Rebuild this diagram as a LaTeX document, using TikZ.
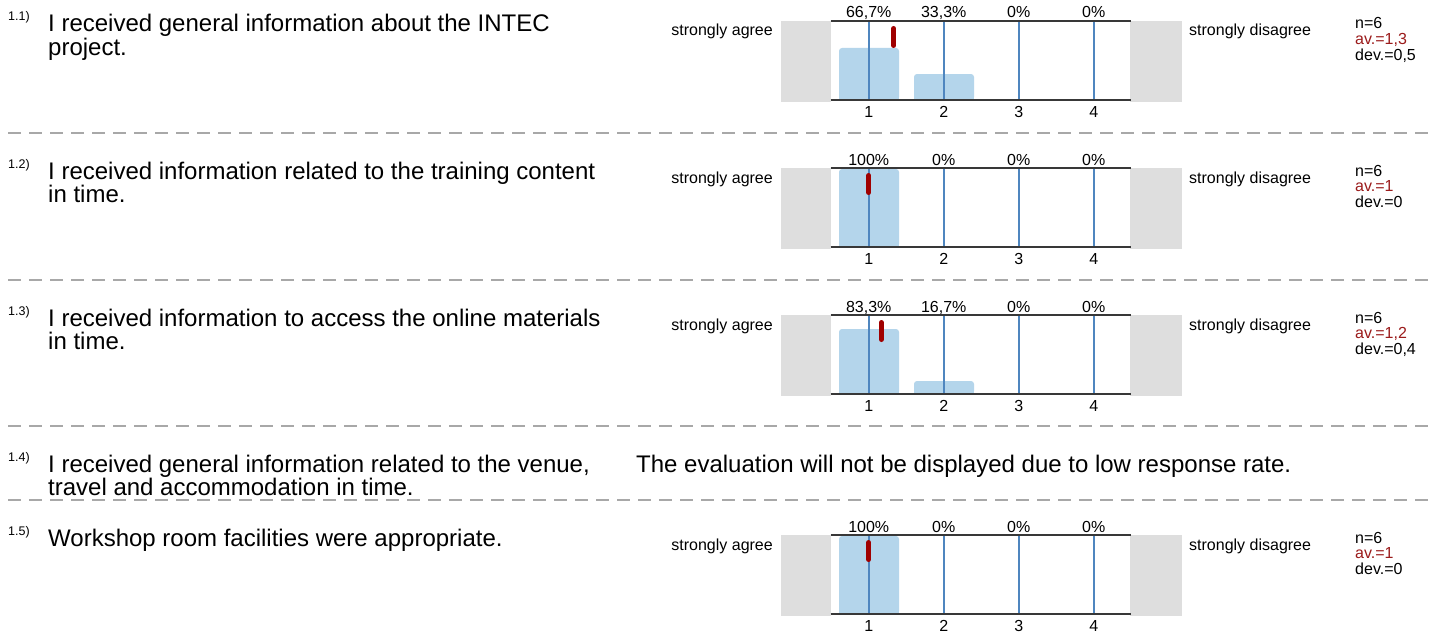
\documentclass[tikz,border=0pt]{standalone}
\usepackage{fontspec}
\setmainfont{Liberation Sans}
\definecolor{graybox}{HTML}{DEDEDE}
\definecolor{barblue}{HTML}{B4D5EB}
\definecolor{tickblue}{HTML}{4F86BF}
\definecolor{meanred}{HTML}{A00000}
\definecolor{avred}{HTML}{9B1B1B}
\definecolor{sepgray}{HTML}{A8A8A8}
\definecolor{axisgray}{HTML}{383838}
\begin{document}
\begin{tikzpicture}[x=1pt,y=-1pt,
  question/.style={anchor=base west, inner sep=0pt, align=left, font=\fontsize{24}{23.5}\selectfont},
  qnum/.style={anchor=base west, inner sep=0pt, font=\fontsize{12.5}{12.5}\selectfont},
  small/.style={inner sep=0pt, font=\fontsize{16}{16}\selectfont},
  statline/.style={small, anchor=base west},
  sepline/.style={draw=sepgray, line width=1.3pt, dash pattern=on 13.3pt off 7.7pt},
  axisline/.style={draw=axisgray, line width=1.9pt},
  tickline/.style={draw=tickblue, line width=1.9pt},
  meanmark/.style={draw=meanred, line width=5pt, line cap=round},
]
\fill[white] (0,0) rectangle (1431,634);
\useasboundingbox (0,0) rectangle (1431,634);

% separators
\foreach \s/\yy in {1/133, 2/280, 3/426, 4/500}{
  \coordinate (sepL\s) at (8,\yy);
  \coordinate (sepR\s) at (1431,\yy);
  \draw[sepline] (sepL\s) -- (sepR\s);
}

% questions (base anchor of a two-line node = baseline of its last line)
\node[qnum] (q1num) at (8,21) {1.1)};
\node[question] (q1) at (48,55.5) {I received general information about the INTEC\\project.};
\node[qnum] (q2num) at (8,168) {1.2)};
\node[question] (q2) at (48,202.5) {I received information related to the training content\\in time.};
\node[qnum] (q3num) at (8,315) {1.3)};
\node[question] (q3) at (48,349.5) {I received information to access the online materials\\in time.};
\node[qnum] (q4num) at (8,461) {1.4)};
\node[question] (q4) at (48,495.5) {I received general information related to the venue,\\travel and accommodation in time.};
\node[question] (q4note) at (636,472) {The evaluation will not be displayed due to low response rate.};
\node[qnum] (q5num) at (8,535) {1.5)};
\node[question] (q5) at (48,546) {Workshop room facilities were appropriate.};

% rating charts
\foreach \r/\o/\pa/\pb/\pc/\pd/\ha/\hb/\m/\av/\dv in {
  1/0/{66,7\%}/{33,3\%}/{0\%}/{0\%}/52/26/1.333/{1,3}/{0,5},
  2/147/{100\%}/{0\%}/{0\%}/{0\%}/78/0/1/{1}/{0},
  3/294/{83,3\%}/{16,7\%}/{0\%}/{0\%}/65/13/1.167/{1,2}/{0,4},
  5/514/{100\%}/{0\%}/{0\%}/{0\%}/78/0/1/{1}/{0}}{
  \pgfmathsetmacro\tp{21+\o}
  \pgfmathsetmacro\bt{100+\o}
  \pgfmathsetmacro\gb{101.5+\o}
  % gray end boxes
  \fill[graybox] (781,\tp) rectangle (831,\gb);
  \fill[graybox] (1130,\tp) rectangle (1182,\gb);
  % bars
  \pgfmathsetmacro\ta{\bt-\ha}
  \pgfmathsetmacro\tas{\bt-\ha+4}
  \fill[barblue, rounded corners=3pt] (839,\bt) rectangle (899,\ta);
  \fill[barblue] (839,\bt) rectangle (899,\tas);
  \ifnum\hb>0
    \pgfmathsetmacro\tb{\bt-\hb}
    \pgfmathsetmacro\tbs{\bt-\hb+4}
    \fill[barblue, rounded corners=3pt] (914,\bt) rectangle (974,\tb);
    \fill[barblue] (914,\bt) rectangle (974,\tbs);
  \fi
  % ticks and scale numbers
  \foreach \k in {1,...,4}{
    \pgfmathsetmacro\tx{868.7+75*(\k-1)}
    \coordinate (tickT\r-\k) at (\tx,\tp);
    \coordinate (tickB\r-\k) at (\tx,\bt);
    \draw[tickline] (tickT\r-\k) -- (tickB\r-\k);
    \node[small, anchor=base] (num\r-\k) at (\tx,\bt+17) {\k};
  }
  % axis lines
  \coordinate (axTL\r) at (830.5,\tp);
  \coordinate (axTR\r) at (1130.5,\tp);
  \coordinate (axBL\r) at (830.5,\bt);
  \coordinate (axBR\r) at (1130.5,\bt);
  \draw[axisline] (axTL\r) -- (axTR\r);
  \draw[axisline] (axBL\r) -- (axBR\r);
  % percentages
  \node[small, anchor=base] (pct\r-1) at (868.7,\tp-3) {\pa};
  \node[small, anchor=base] (pct\r-2) at (943.7,\tp-3) {\pb};
  \node[small, anchor=base] (pct\r-3) at (1018.7,\tp-3) {\pc};
  \node[small, anchor=base] (pct\r-4) at (1093.7,\tp-3) {\pd};
  % mean marker
  \pgfmathsetmacro\mx{868.7+75*(\m-1)}
  \coordinate (meanT\r) at (\mx,\tp+7.5);
  \coordinate (meanB\r) at (\mx,\tp+24.5);
  \draw[meanmark] (meanT\r) -- (meanB\r);
  % pole labels
  \node[small, anchor=base east] (agree\r) at (773,\tp+15) {strongly agree};
  \node[small, anchor=base west] (disagree\r) at (1189,\tp+15) {strongly disagree};
  % statistics
  \node[statline] (n\r) at (1355,\tp+8) {n=6};
  \node[statline, text=avred] (av\r) at (1355,\tp+23.5) {av.=\av};
  \node[statline] (dev\r) at (1355,\tp+39) {dev.=\dv};
}
\end{tikzpicture}
\end{document}
